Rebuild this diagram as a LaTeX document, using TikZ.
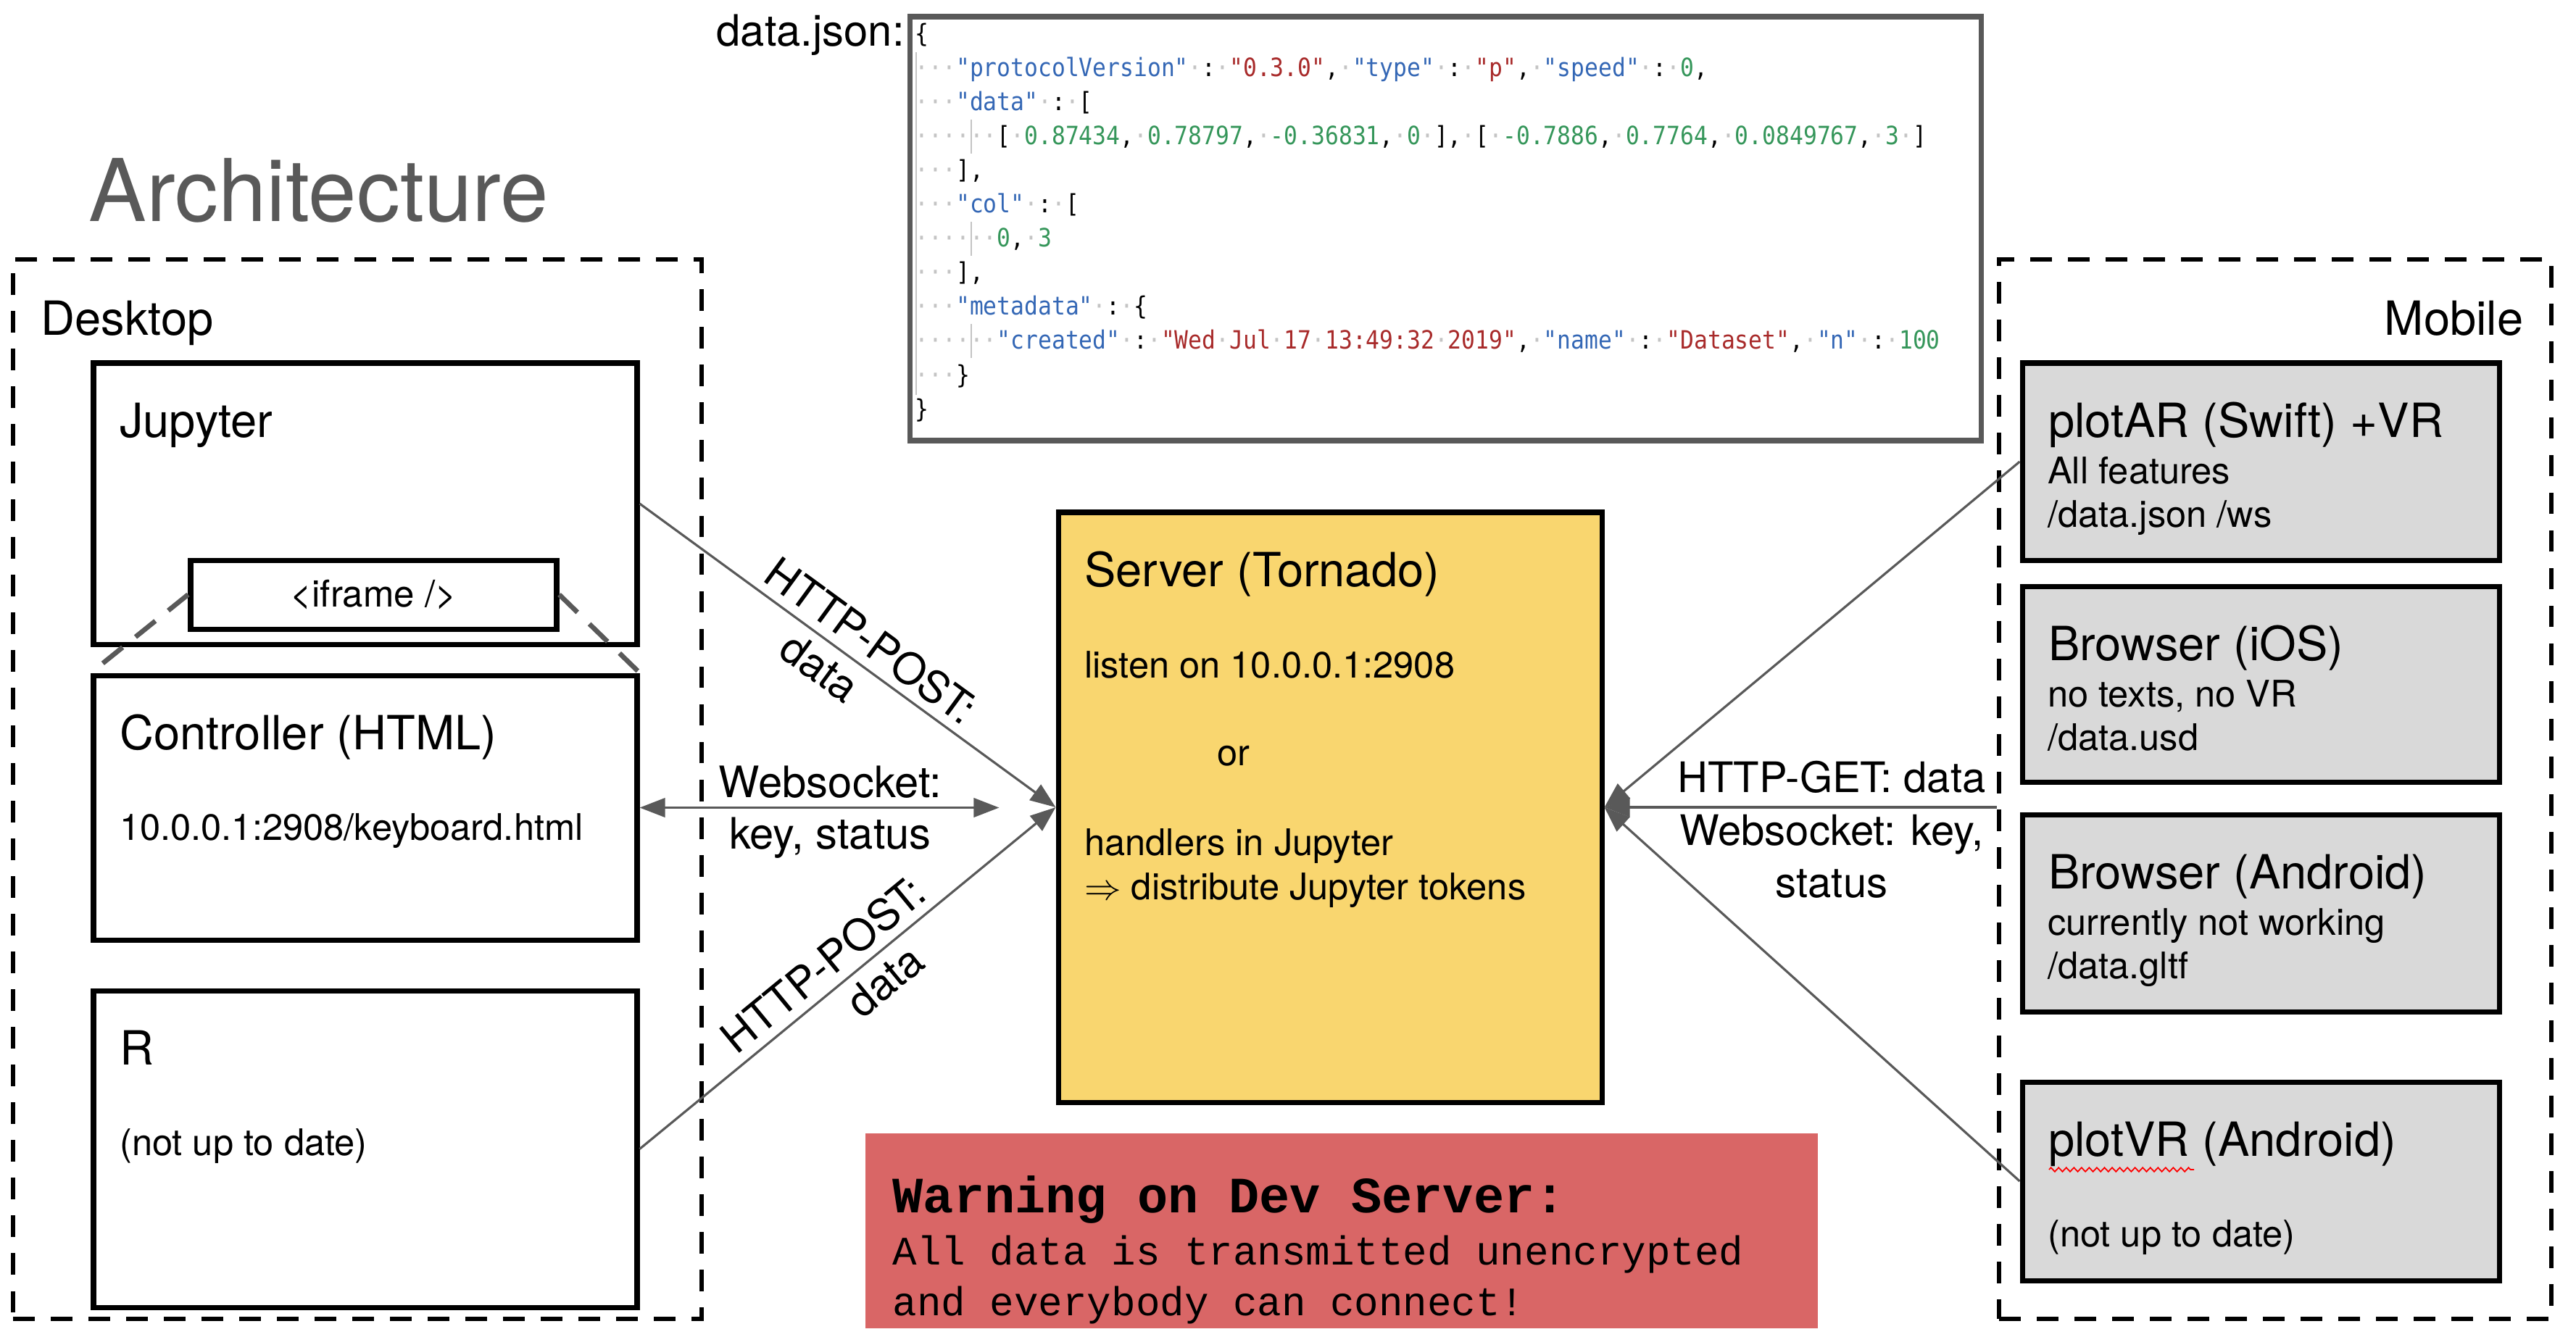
\documentclass[tikz,border=0pt]{standalone}
\usepackage{fontspec}
\setmainfont{TeX Gyre Heros}
\newfontfamily\jsonfont[FakeStretch=0.9,Ligatures=TeXOff]{DejaVu Sans Mono}
\newfontfamily\warnfont{Liberation Mono}
\usetikzlibrary{calc,arrows.meta,decorations.pathmorphing}

\definecolor{arrgray}{HTML}{595959}
\definecolor{srvyellow}{HTML}{F9D66F}
\definecolor{mobgray}{HTML}{D9D9D9}
\definecolor{warnred}{HTML}{D96666}
\definecolor{jkey}{HTML}{3467B5}
\definecolor{jstr}{HTML}{A82A2A}
\definecolor{jnum}{HTML}{35965A}
\definecolor{jdot}{HTML}{C4C4C4}

% json colouring
\newcommand\jk[1]{{\color{jkey}"#1"}}
\newcommand\js[1]{{\color{jstr}"#1"}}
\newcommand\jn[1]{{\color{jnum}#1}}
\newcommand\dt{{\color{jdot}·}}

\tikzset{
  box/.style={draw, line width=2pt, minimum width=7.5cm, inner sep=0},
  mobbox/.style={box, fill=mobgray, minimum width=6.58cm},
  zone/.style={draw, line width=1.8pt, dash pattern=on 8.5pt off 6.3pt, inner sep=0},
  ttl/.style={anchor=base west, inner sep=0, font=\fontsize{18.5}{22}\selectfont},
  sublbl/.style={anchor=base west, inner sep=0, font=\fontsize{14.4}{17}\selectfont},
  elab/.style={font=\fontsize{17}{20}\selectfont},
  zoomline/.style={arrgray, line width=1.9pt, dash pattern=on 10pt off 6.5pt},
  arr/.style={draw=arrgray, line width=0.9pt, -{Triangle[length=10pt,width=7.5pt]}},
}

\begin{document}
\begin{tikzpicture}
\useasboundingbox (0,0) rectangle (35.54,-18.44);

\node (arch) [anchor=base west, inner sep=0, text=arrgray, font=\fontsize{34}{40}\selectfont] at (1.22,-3.05) {Architecture};

% json sample
\node (json-t) [elab, anchor=base west, inner sep=0] at (9.88,-0.63) {data.json:};
\node (json) [draw=arrgray, line width=2pt, minimum width=14.78cm, minimum height=5.85cm] at (19.94,-3.155) {};
\draw[jdot, line width=0.5pt] (12.64,-0.72) -- (12.64,-5.45);
\foreach \y in {1.65, 3.06, 4.47}
  \draw[jdot, line width=0.5pt] (13.40,-\y) -- +(0,-0.47);
\foreach \i/\txt in {
  0/{\{},
  1/{\dt\dt\dt\jk{protocolVersion}\dt:\dt\js{0.3.0},\dt\jk{type}\dt:\dt\js{p},\dt\jk{speed}\dt:\dt\jn{0},},
  2/{\dt\dt\dt\jk{data}\dt:\dt[},
  3/{\dt\dt\dt\dt\dt\dt[\dt\jn{0.87434},\dt\jn{0.78797},\dt\jn{-0.36831},\dt\jn{0}\dt],\dt[\dt\jn{-0.7886},\dt\jn{0.7764},\dt\jn{0.0849767},\dt\jn{3}\dt]},
  4/{\dt\dt\dt],},
  5/{\dt\dt\dt\jk{col}\dt:\dt[},
  6/{\dt\dt\dt\dt\dt\dt\jn{0},\dt\jn{3}},
  7/{\dt\dt\dt],},
  8/{\dt\dt\dt\jk{metadata}\dt:\dt\{},
  9/{\dt\dt\dt\dt\dt\dt\jk{created}\dt:\dt\js{Wed\dt Jul\dt 17\dt 13:49:32\dt 2019},\dt\jk{name}\dt:\dt\js{Dataset},\dt\jk{n}\dt:\dt\jn{100}},
  10/{\dt\dt\dt\}},
  11/{\}}}
  \node (json\i) [anchor=base west, inner sep=0, font=\jsonfont\fontsize{9.9}{11}\selectfont] at (12.62,-0.58-0.471*\i) {\txt};

% desktop side
\node (desktop) [zone, minimum width=9.5cm, minimum height=14.62cm] at (4.93,-10.89) {};
\node (desktop-t) [ttl] at (0.56,-4.62) {Desktop};
\node (jupyter) [box, minimum height=3.88cm] at (5.04,-6.95) {};
\node (ctrl) [box, minimum height=3.65cm] at (5.04,-11.145) {};
\node (rpkg) [box, minimum height=4.37cm] at (5.04,-15.855) {};
\node (iframe) [box, minimum width=5.05cm, minimum height=0.95cm, font=\fontsize{14.5}{17}\selectfont] at (5.155,-8.205) {<iframe />};
\draw[zoomline] (iframe.west) -- (ctrl.north west);
\draw[zoomline] (iframe.east) -- ($(iframe.east)!1.12!(ctrl.north east)$);

% server
\node (server) [box, fill=srvyellow, minimum height=8.14cm] at (18.35,-11.14) {};

% mobile side
\node (mobile) [zone, minimum width=7.62cm, minimum height=14.62cm] at (31.39,-10.89) {};
\node (mobile-t) [ttl, anchor=base east] at (34.82,-4.62) {Mobile};
\foreach \n/\y/\h in {plotar/6.37/2.72, ios/9.44/2.70, android/12.60/2.72, plotvr/16.30/2.74}
  \node (\n) [mobbox, minimum height=\h*1cm] at (31.19,-\y) {};

% box titles and texts
\foreach \n/\t in {jupyter/Jupyter, ctrl/{Controller (HTML)}, rpkg/R, server/{Server (Tornado)},
    plotar/{plotAR (Swift) +VR}, ios/{Browser (iOS)}, android/{Browser (Android)}, plotvr/{plotVR (Android)}}
  \node (\n-t) [ttl] at ($(\n.north west)+(0.39,-1.06)$) {\t};
\node (ctrl-s) [sublbl] at ($(ctrl.north west)+(0.39,-2.31)$) {10.0.0.1:2908/keyboard.html};
\node (rpkg-s) [sublbl] at ($(rpkg.north west)+(0.39,-2.31)$) {(not up to date)};
\node (server-a) [sublbl] at ($(server.north west)+(0.39,-2.32)$) {listen on 10.0.0.1:2908};
\node (server-b) [sublbl] at ($(server.north west)+(2.22,-3.53)$) {or};
\node (server-c) [sublbl] at ($(server.north west)+(0.39,-4.77)$) {handlers in Jupyter};
\node (server-d) [sublbl] at ($(server.north west)+(0.39,-5.38)$) {$\Rightarrow$ distribute Jupyter tokens};
\foreach \n/\a/\b in {plotar/{All features}/{/data.json /ws}, ios/{no texts, no VR}/{/data.usd},
    android/{currently not working}/{/data.gltf}} {
  \node (\n-a) [sublbl] at ($(\n.north west)+(0.38,-1.70)$) {\a};
  \node (\n-b) [sublbl] at ($(\n.north west)+(0.38,-2.30)$) {\b};
}
\node (plotvr-b) [sublbl] at ($(plotvr.north west)+(0.38,-2.31)$) {(not up to date)};
\draw[red, line width=0.5pt, decorate, decoration={zigzag, segment length=3pt, amplitude=0.8pt}] (28.27,-16.14) -- (30.27,-16.14);

% connections desktop -> server
\draw[arr] (jupyter.east) -- node[elab, sloped, above, pos=0.52] (post1) {HTTP-POST:} node[elab, sloped, below, pos=0.47] (post1d) {data} (server.west);
\coordinate (wsend) at ($(ctrl.east -| server.west)+(-0.78,0)$);
\draw[arr, {Triangle[length=10pt,width=7.5pt]}-{Triangle[length=10pt,width=7.5pt]}] (ctrl.east) -- node[elab, above, pos=0.53] (ws1) {Websocket:} node[elab, below, pos=0.53] (ws2) {key, status} (wsend);
\draw[arr] (rpkg.east) -- node[elab, sloped, above, pos=0.48] (post2) {HTTP-POST:} node[elab, sloped, below, pos=0.55] (post2d) {data} (server.west);

% connections mobile -> server
\draw[arr] (plotar.west) -- (server.east);
\coordinate (mobin) at (mobile.west |- server.east);
\draw[arr] (mobin) -- (server.east);
\draw[arr] (plotvr.west) -- (server.east);
\node (getlbl) [font=\fontsize{16.5}{20.7}\selectfont, align=center] at (25.27,-11.45) {HTTP-GET: data\\Websocket: key,\\status};

% warning
\node (warn) [fill=warnred, minimum width=13.14cm, minimum height=2.69cm, inner sep=0] at (18.51,-16.985) {};
\node (warn-t) [anchor=base west, inner sep=0, font=\warnfont\bfseries\fontsize{20}{24}\selectfont] at (12.31,-16.73) {Warning on Dev Server:};
\node (warn-a) [anchor=base west, inner sep=0, font=\warnfont\fontsize{15.9}{19}\selectfont] at (12.31,-17.45) {All data is transmitted unencrypted};
\node (warn-b) [anchor=base west, inner sep=0, font=\warnfont\fontsize{15.9}{19}\selectfont] at (12.31,-18.15) {and everybody can connect!};
\end{tikzpicture}
\end{document}
